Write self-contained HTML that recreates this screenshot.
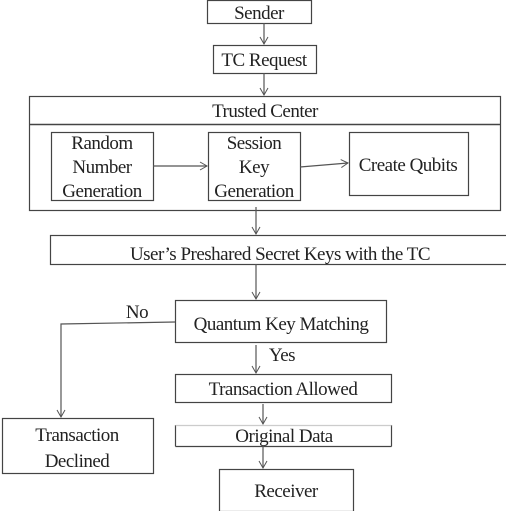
<!DOCTYPE html>
<html><head><style>
body{margin:0;background:#fff}
svg text{font-family:"Liberation Serif",serif;font-size:19px;fill:#222;text-anchor:middle;letter-spacing:-0.5px}
</style></head><body>
<svg width="506" height="511" viewBox="0 0 506 511" xmlns="http://www.w3.org/2000/svg">
<defs><marker id="a" markerWidth="10" markerHeight="10" refX="8" refY="5" orient="auto" markerUnits="userSpaceOnUse"><path d="M1,1 L8,5 L1,9" fill="none" stroke="#555" stroke-width="1"/></marker></defs>
<g fill="none" stroke="#444" stroke-width="1.2">
<rect x="207.5" y="0.5" width="104" height="23"/>
<rect x="213.5" y="45.5" width="103" height="28"/>
<rect x="29.5" y="96.5" width="471" height="114"/>
<line x1="29.5" y1="124.5" x2="500.5" y2="124.5" stroke-width="1.6"/>
<rect x="51.5" y="132.5" width="102" height="68"/>
<rect x="208.5" y="132.5" width="92" height="68"/>
<rect x="349.5" y="132.5" width="119" height="63"/>
<rect x="50.5" y="235.5" width="460" height="29"/>
<rect x="175.5" y="300.5" width="211" height="42"/>
<rect x="2.5" y="418.5" width="151" height="55"/>
<rect x="175.5" y="374.5" width="216" height="28"/>
<path d="M175.5,446.5 H391.5 M175.5,425 V446.5 M391.5,425 V446.5"/>
<line x1="175.5" y1="425.5" x2="391.5" y2="425.5" stroke="#ccc"/>
<rect x="219.5" y="469.5" width="134" height="42"/>
</g>
<g stroke="#555" stroke-width="1.2" fill="none" marker-end="url(#a)">
<line x1="264" y1="23" x2="264" y2="44"/>
<line x1="264" y1="73" x2="264" y2="95"/>
<line x1="153" y1="166" x2="207" y2="166"/>
<line x1="300" y1="167" x2="348" y2="163"/>
<line x1="256" y1="207" x2="256" y2="234"/>
<line x1="256" y1="264" x2="256" y2="299"/>
<polyline points="175,322 61,324 61,417"/>
<line x1="256" y1="345" x2="256" y2="373"/>
<line x1="263" y1="404" x2="263" y2="424"/>
<line x1="263" y1="446" x2="263" y2="468"/>
</g>
<text x="259" y="19">Sender</text>
<text x="264" y="66">TC Request</text>
<text x="265" y="117">Trusted Center</text>
<text x="102" y="149">Random</text>
<text x="102" y="173">Number</text>
<text x="102" y="197">Generation</text>
<text x="254" y="149">Session</text>
<text x="254" y="173">Key</text>
<text x="254" y="197">Generation</text>
<text x="408" y="171">Create Qubits</text>
<text x="280" y="260">User’s Preshared Secret Keys with the TC</text>
<text x="137" y="318">No</text>
<text x="281" y="330">Quantum Key Matching</text>
<text x="282" y="361">Yes</text>
<text x="283" y="395">Transaction Allowed</text>
<text x="77" y="441">Transaction</text>
<text x="77" y="467">Declined</text>
<text x="284" y="442">Original Data</text>
<text x="286" y="497">Receiver</text>
</svg>
</body></html>
